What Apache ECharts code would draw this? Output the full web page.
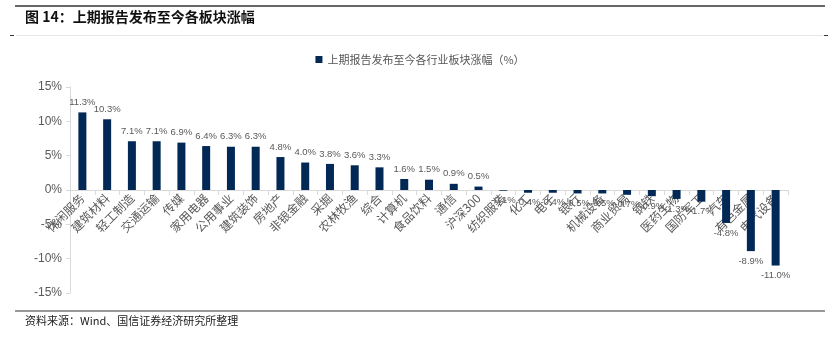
<!DOCTYPE html>
<html>
<head>
<meta charset="utf-8">
<script src="https://cdn.jsdelivr.net/npm/echarts@6/dist/echarts.min.js"></script>
<style>
html,body{margin:0;padding:0;background:#fff;}
#c{width:840px;height:341px;}
</style>
</head>
<body>
<div id="c"></div>
<script>
const categories = ["休闲服务","建筑材料","轻工制造","交通运输","传媒","家用电器","公用事业","建筑装饰","房地产","非银金融","采掘","农林牧渔","综合","计算机","食品饮料","通信","沪深300","纺织服装","化工","电子","银行","机械设备","商业贸易","钢铁","医药生物","国防军工","汽车","有色金属","电气设备"];
const values = [11.3,10.3,7.1,7.1,6.9,6.4,6.3,6.3,4.8,4.0,3.8,3.6,3.3,1.6,1.5,0.9,0.5,-0.1,-0.4,-0.4,-0.5,-0.5,-0.7,-0.9,-1.3,-1.7,-4.8,-8.9,-11.0];
const seriesName = "上期报告发布至今各行业板块涨幅（%）";
const yTicks = {min:-15, max:15, interval:5};
const titleText = "图 14：上期报告发布至今各板块涨幅";
const sourceText = "资料来源：Wind、国信证券经济研究所整理";

const gridTop = 87, gridBottom = 48, H = 341;
const gridH = H - gridTop - gridBottom;
// shift the category axis up to the zero line (middle of symmetric range)
const zeroOffset = -gridH * (0 - yTicks.min) / (yTicks.max - yTicks.min);

const chart = echarts.init(document.getElementById('c'), null, {renderer:'canvas'});
const barColor = '#022855';
chart.setOption({
  animation:false,
  backgroundColor:'#fff',
  graphic:[
    {type:'line', shape:{x1:15,y1:6,x2:825,y2:6}, style:{stroke:'#333',lineWidth:1.5}},
    {type:'text', left:25, top:10, style:{text:titleText, font:'bold 14px "Noto Sans CJK SC", sans-serif', fill:'#111'}},
    {type:'line', shape:{x1:16,y1:35.5,x2:823,y2:35.5}, style:{stroke:'#e6e6e6',lineWidth:1}},
    {type:'line', shape:{x1:10,y1:35.5,x2:14,y2:35.5}, style:{stroke:'#333',lineWidth:1}},
    {type:'line', shape:{x1:824,y1:35.5,x2:828,y2:35.5}, style:{stroke:'#333',lineWidth:1}},
    {type:'line', shape:{x1:15,y1:311,x2:825,y2:311}, style:{stroke:'#333',lineWidth:1}},
    {type:'text', left:25, top:315, style:{text:sourceText, font:'11px "Noto Sans CJK SC", sans-serif', fill:'#222'}}
  ],
  legend:{
    top:49, left:'center',
    itemWidth:7, itemHeight:7, itemGap:4,
    icon:'rect',
    textStyle:{fontSize:11, color:'#555', fontFamily:'"Noto Sans CJK SC", sans-serif'},
    data:[seriesName]
  },
  grid:{left:70, right:52, top:gridTop, bottom:gridBottom, containLabel:false},
  xAxis:{
    type:'category', data:categories,
    offset: zeroOffset,
    axisLine:{onZero:false, lineStyle:{color:'#d9d9d9'}},
    axisTick:{show:true, length:5, lineStyle:{color:'#d9d9d9'}},
    axisLabel:{interval:0, rotate:45, margin:6, fontSize:12, color:'#595959', fontFamily:'"Noto Sans CJK SC", sans-serif'}
  },
  yAxis:{
    type:'value', min:yTicks.min, max:yTicks.max, interval:yTicks.interval,
    splitLine:{show:false},
    axisLine:{show:true, lineStyle:{color:'#d9d9d9'}},
    axisTick:{show:true, length:4, lineStyle:{color:'#d9d9d9'}},
    axisLabel:{formatter:'{value}%', fontSize:12, color:'#595959', fontFamily:'Arial, "Liberation Sans", sans-serif', margin:8}
  },
  series:[{
    name:seriesName, type:'bar', barWidth:8,
    data:values.map(v=>({value:v, label:{position: v<0?'bottom':'top'}})),
    itemStyle:{color:barColor},
    label:{show:true, fontSize:9.5, color:'#595959', fontFamily:'Arial, "Liberation Sans", sans-serif',
      formatter:p=>p.value.toFixed(1)+'%', distance:5}
  }]
});
</script>
</body>
</html>
